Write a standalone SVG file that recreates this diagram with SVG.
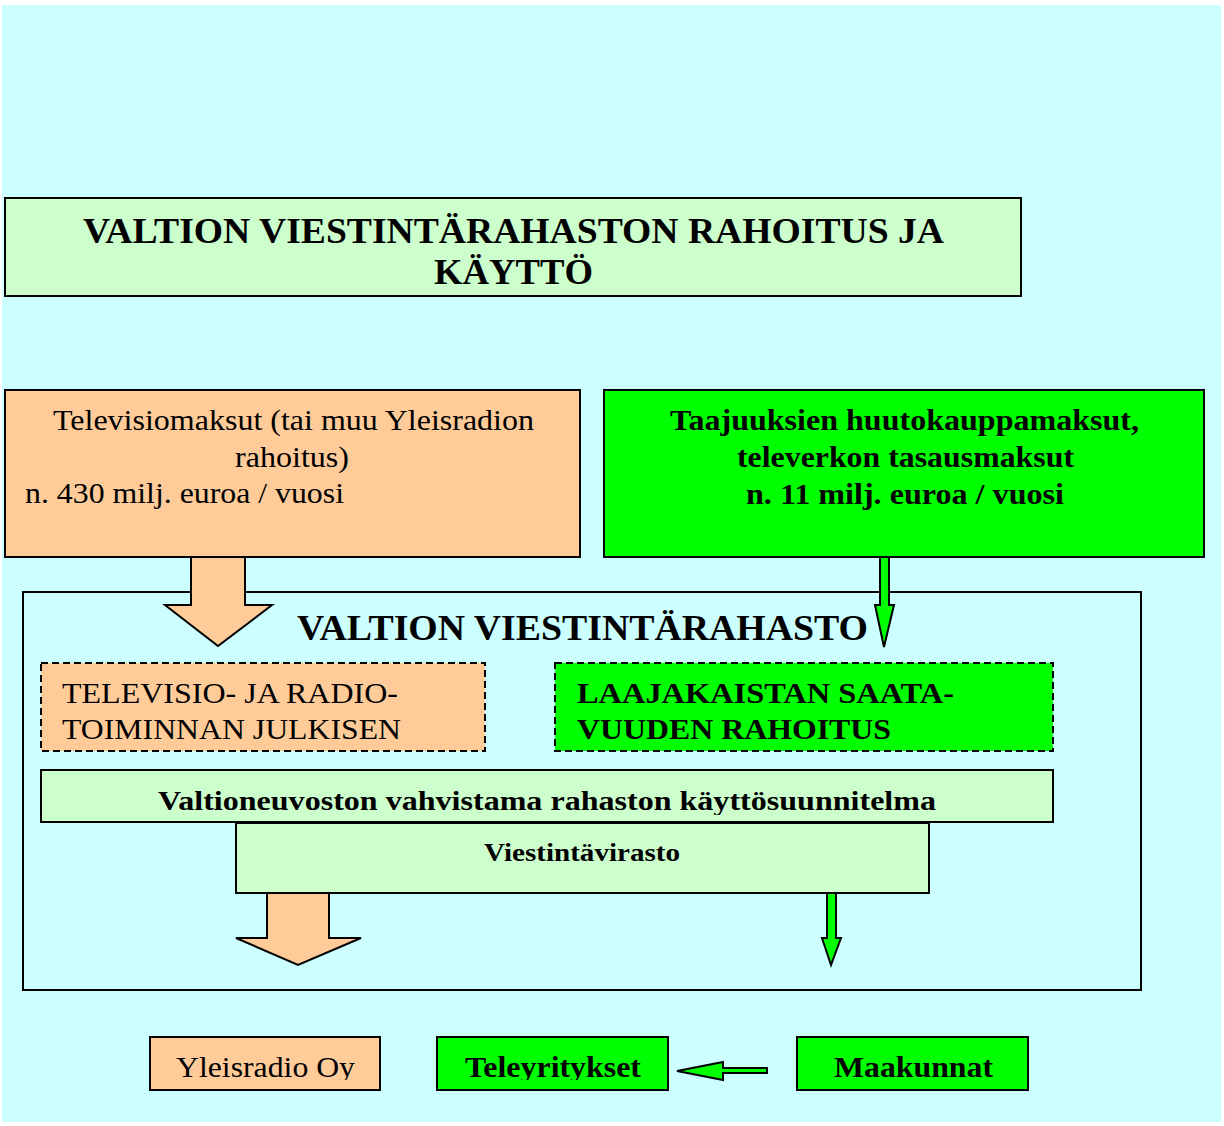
<svg xmlns="http://www.w3.org/2000/svg" width="1224" height="1126" viewBox="0 0 1224 1126">
<style>
.box{stroke:#000;stroke-width:2}
.dash{stroke:#000;stroke-width:2;stroke-dasharray:7,4}
.or{fill:#FFCC99}
.gr{fill:#00FF00}
.lg{fill:#CCFFCC}
.arr{stroke:#000;stroke-width:2;stroke-linejoin:miter}
text{font-family:"Times New Roman","Liberation Serif",Tinos,serif;fill:#000}
.b{font-weight:bold}
</style>
<defs>
<clipPath id="clipPlan"><rect x="0" y="770" width="1224" height="45"/></clipPath>
<clipPath id="clipBottom"><rect x="0" y="1030" width="1224" height="50"/></clipPath>
</defs>
<rect x="0" y="0" width="1224" height="1126" fill="#FFFFFF"/>
<rect x="2" y="5" width="1219" height="1117" fill="#CCFFFF"/>

<g id="title">
<rect class="box lg" x="5" y="198" width="1016" height="98"/>
<text class="b" x="83" y="243" font-size="35" textLength="861" lengthAdjust="spacingAndGlyphs">VALTION VIESTINTÄRAHASTON RAHOITUS JA</text>
<text class="b" x="434" y="284" font-size="35" textLength="159" lengthAdjust="spacingAndGlyphs">KÄYTTÖ</text>
</g>

<g id="tv-fees">
<rect class="box or" x="5" y="390" width="575" height="167"/>
<text x="53" y="430" font-size="29" textLength="481" lengthAdjust="spacingAndGlyphs">Televisiomaksut (tai muu Yleisradion</text>
<text x="235" y="467" font-size="29" textLength="114" lengthAdjust="spacingAndGlyphs">rahoitus)</text>
<text x="25" y="503" font-size="29" textLength="319" lengthAdjust="spacingAndGlyphs">n. 430 milj. euroa / vuosi</text>
</g>

<g id="auction-fees">
<rect class="box gr" x="604" y="390" width="600" height="167"/>
<text class="b" x="670" y="430" font-size="29" textLength="469" lengthAdjust="spacingAndGlyphs">Taajuuksien huutokauppamaksut,</text>
<text class="b" x="737" y="467" font-size="29" textLength="337" lengthAdjust="spacingAndGlyphs">televerkon tasausmaksut</text>
<text class="b" x="746" y="504" font-size="29" textLength="318" lengthAdjust="spacingAndGlyphs">n. 11 milj. euroa / vuosi</text>
</g>

<g id="fund">
<rect class="box" fill="none" x="23" y="592" width="1118" height="398"/>
<text class="b" x="297" y="640" font-size="35" textLength="571" lengthAdjust="spacingAndGlyphs">VALTION VIESTINTÄRAHASTO</text>
</g>

<g id="public-service">
<rect class="dash or" x="41" y="663" width="444" height="88"/>
<text x="62" y="703" font-size="29" textLength="336" lengthAdjust="spacingAndGlyphs">TELEVISIO- JA RADIO-</text>
<text x="62" y="739" font-size="29" textLength="339" lengthAdjust="spacingAndGlyphs">TOIMINNAN JULKISEN</text>
</g>

<g id="broadband">
<rect class="dash gr" x="555" y="663" width="498" height="88"/>
<text class="b" x="577" y="703" font-size="29" textLength="377" lengthAdjust="spacingAndGlyphs">LAAJAKAISTAN SAATA-</text>
<text class="b" x="577" y="739" font-size="29" textLength="314" lengthAdjust="spacingAndGlyphs">VUUDEN RAHOITUS</text>
</g>

<g id="plan">
<rect class="box lg" x="41" y="770" width="1012" height="52"/>
<text class="b" x="158" y="810" font-size="28" textLength="778" lengthAdjust="spacingAndGlyphs" clip-path="url(#clipPlan)">Valtioneuvoston vahvistama rahaston käyttösuunnitelma</text>
</g>

<g id="agency">
<rect class="box lg" x="236" y="823" width="693" height="70"/>
<text class="b" x="484" y="861" font-size="26" textLength="196" lengthAdjust="spacingAndGlyphs">Viestintävirasto</text>
</g>

<g id="yle">
<rect class="box or" x="150" y="1037" width="230" height="53"/>
<text x="176" y="1077" font-size="29" textLength="179" lengthAdjust="spacingAndGlyphs" clip-path="url(#clipBottom)">Yleisradio Oy</text>
</g>

<g id="teleyritykset">
<rect class="box gr" x="437" y="1037" width="231" height="53"/>
<text class="b" x="465" y="1077" font-size="29" textLength="176" lengthAdjust="spacingAndGlyphs" clip-path="url(#clipBottom)">Teleyritykset</text>
</g>

<g id="maakunnat">
<rect class="box gr" x="797" y="1037" width="231" height="53"/>
<text class="b" x="834" y="1077" font-size="29" textLength="159" lengthAdjust="spacingAndGlyphs" clip-path="url(#clipBottom)">Maakunnat</text>
</g>

<g id="connectors">
<polygon class="arr or" points="191,557 245,557 245,605 272,605 218,646 165,605 191,605"/>
<polygon class="arr gr" points="880,557 889,557 889,605 894,605 884,647 875,605 880,605"/>
<polygon class="arr or" points="267,893 329,893 329,938 361,938 298,965 236,938 267,938"/>
<polygon class="arr gr" points="827,893 836,893 836,938 841,938 831,965 822,938 827,938"/>
<polygon class="arr gr" points="767,1068 767,1073 723,1073 723,1080 677,1071 723,1062 723,1068"/>
</g>
</svg>
